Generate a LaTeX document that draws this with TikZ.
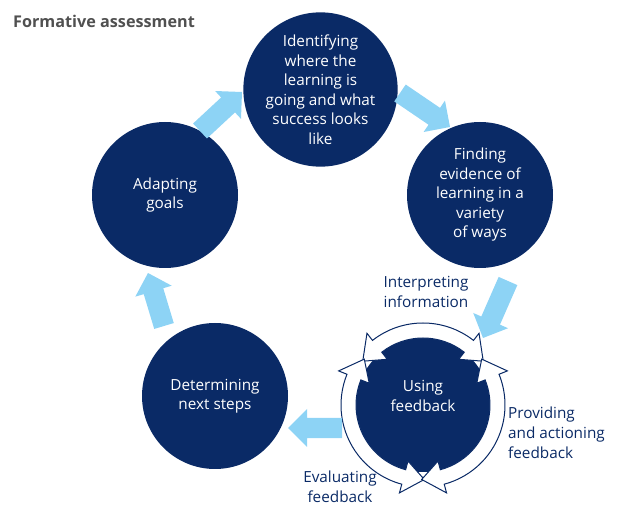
\documentclass[tikz,border=0pt]{standalone}
\usepackage{fontspec}
\setmainfont{Open Sans}
\usetikzlibrary{shapes.arrows,calc}
\definecolor{navy}{HTML}{0A2A66}
\definecolor{lblue}{HTML}{8DD3F5}
\definecolor{titlegray}{HTML}{505050}
\newcommand\rout{82}
\newcommand\rin{67}
\newcommand\rmid{74.5}
\newcommand\hw{9}
\newcommand\hh{16}
\newcommand\ringarc[2]{%
  \draw[ringarcstyle] ({#1}:{\rmid}) -- ({#1+\hh}:{\rout+\hw}) -- ({#1+\hh}:{\rout})
    arc[start angle={#1+\hh}, end angle={#2-\hh}, radius=\rout]
    -- ({#2-\hh}:{\rout+\hw}) -- ({#2}:{\rmid}) -- ({#2-\hh}:{\rin-\hw}) -- ({#2-\hh}:{\rin})
    arc[start angle={#2-\hh}, end angle={#1+\hh}, radius=\rin]
    -- ({#1+\hh}:{\rin-\hw}) -- cycle;}
\newcommand\flowarrow[3]{%
  \path let \p1=(#2), \p2=(#3), \n1={atan2(\y2-\y1,\x2-\x1)}, \n2={veclen(\x2-\x1,\y2-\y1)} in
    node[flowstyle, rotate=\n1, minimum height=\n2] (#1) at (\p1) {};}
\begin{document}
\begin{tikzpicture}[x=1pt,y=1pt,
  stage/.style={circle, fill=navy, minimum size=146pt, inner sep=0pt, text=white, align=center,
    font=\fontsize{15.3}{19.5}\selectfont},
  flowstyle/.style={single arrow, fill=lblue, draw=none, inner xsep=0pt, inner ysep=10pt,
    outer sep=0pt, single arrow head extend=8.8pt, anchor=tail},
  ringarcstyle/.style={fill=white, draw=navy, line width=1pt, line join=miter},
  lbl/.style={text=navy, inner sep=0pt, font=\fontsize{15.3}{20}\selectfont}]
\path[use as bounding box] (0,0) rectangle (630,-518);

\node[anchor=west, text=titlegray, inner sep=0pt, font=\fontsize{16.2}{19}\selectfont\bfseries] (title) at (13,-21) {Formative assessment};

\node[stage] (ident) at (320.5,-89.5) {Identifying\\where the\\learning is\\going and what\\success looks\\like};
\node[stage] (find) at (480,-195) {Finding\\evidence of\\learning in a\\variety\\of ways};
\node[stage] (adapt) at (165,-195) {Adapting\\goals};
\node[stage] (determ) at (215,-396) {Determining\\next steps};
\node[circle, fill=navy, minimum size=134pt, inner sep=0pt] (use) at (423,-405) {};

\begin{scope}[shift={(use.center)}]
  \ringarc{36}{144}
  \ringarc{142}{271}
  \ringarc{-91}{38}
\end{scope}

\node[text=white, align=center, inner sep=0pt, font=\fontsize{15.3}{19.5}\selectfont] (usetext) at (423,-396) {Using\\feedback};

\coordinate (a1t) at (200,-131); \coordinate (a1h) at (242,-92);
\coordinate (a2t) at (400,-93);  \coordinate (a2h) at (450,-127);
\coordinate (a3t) at (508,-281); \coordinate (a3h) at (483,-338);
\coordinate (a4t) at (342,-428); \coordinate (a4h) at (288,-428);
\coordinate (a5t) at (164,-326); \coordinate (a5h) at (148,-273);
\flowarrow{f1}{a1t}{a1h}
\flowarrow{f2}{a2t}{a2h}
\flowarrow{f3}{a3t}{a3h}
\flowarrow{f4}{a4t}{a4h}
\flowarrow{f5}{a5t}{a5h}

\node[lbl, align=center] (interp) at (426,-292) {Interpreting\\information};
\node[lbl, align=left, anchor=west] (provide) at (508,-433) {Providing\\and actioning\\feedback};
\node[lbl, align=center] (evalu) at (340,-487) {Evaluating\\feedback};
\end{tikzpicture}
\end{document}
